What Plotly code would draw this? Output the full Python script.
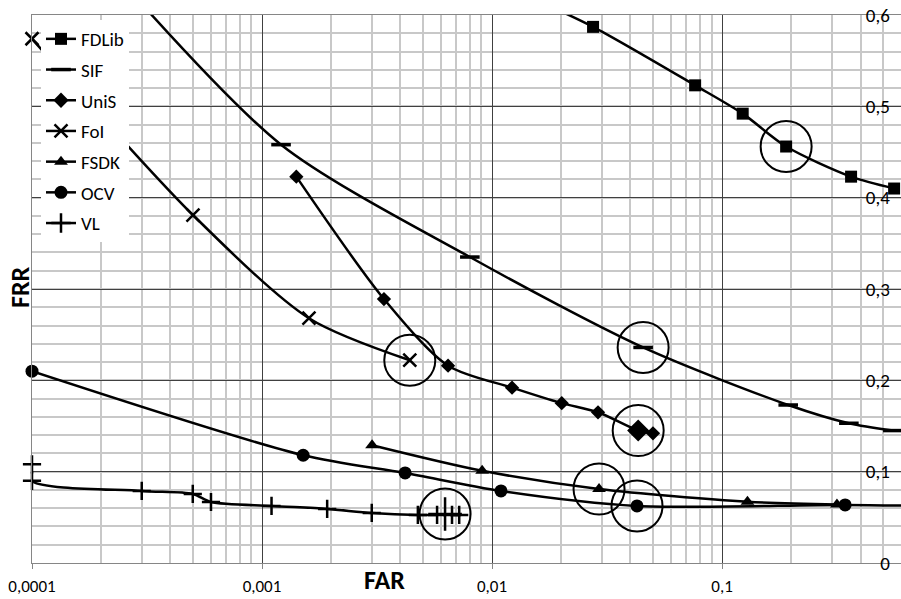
import math
import plotly.graph_objects as go

# ---------------- data ----------------
series_names = ["FDLib", "SIF", "UniS", "FoI", "FSDK", "OCV", "VL"]

fdlib_far = [0.016, 0.0275, 0.0764, 0.123, 0.190, 0.364, 0.560]
fdlib_frr = [0.615, 0.587, 0.523, 0.492, 0.456, 0.423, 0.410]

sif_far = [0.00022, 0.00121, 0.00801, 0.0454, 0.194, 0.356, 0.553]
sif_frr = [0.650, 0.458, 0.335, 0.236, 0.173, 0.153, 0.145]

unis_far = [0.00141, 0.00339, 0.00644, 0.01222, 0.0201, 0.0289, 0.0432, 0.0501]
unis_frr = [0.423, 0.289, 0.216, 0.192, 0.175, 0.165, 0.145, 0.142]

foi_far = [0.0001, 0.000501, 0.0016, 0.00439]
foi_frr = [0.574, 0.381, 0.268, 0.222]

fsdk_far = [0.00301, 0.00906, 0.0292, 0.129, 0.316]
fsdk_frr = [0.129, 0.101, 0.081, 0.067, 0.064]

ocv_far = [0.0001, 0.00151, 0.00419, 0.01094, 0.0427, 0.343, 1.0]
ocv_frr = [0.210, 0.118, 0.0986, 0.0789, 0.0625, 0.0636, 0.062]

vl_far = [0.0001, 0.0001, 0.0003, 0.0005, 0.0006, 0.0011, 0.00192, 0.0030,
          0.00476, 0.00577, 0.00625, 0.0067, 0.0072]
vl_frr = [0.108, 0.090, 0.0789, 0.0756, 0.0668, 0.0625, 0.0592, 0.0548,
          0.0526, 0.0526, 0.0537, 0.0526, 0.0526]

# index of the circled (operating) point in each series
highlight_index = [4, 3, 6, 3, 2, 4, 10]

x_tick_vals = [0.0001, 0.001, 0.01, 0.1]
x_tick_text = ["0,0001", "0,001", "0,01", "0,1"]
y_tick_vals = [0, 0.1, 0.2, 0.3, 0.4, 0.5, 0.6]
y_tick_text = ["0", "0,1", "0,2", "0,3", "0,4", "0,5", "0,6"]

# ---------------- styling ----------------
FONT = "Carlito, Lato, sans-serif"
fars = [fdlib_far, sif_far, unis_far, foi_far, fsdk_far, ocv_far, vl_far]
frrs = [fdlib_frr, sif_frr, unis_frr, foi_frr, fsdk_frr, ocv_frr, vl_frr]
symbols = ["square", "line-ew", "diamond", "x-thin", "triangle-up", "circle", "cross-thin"]
base_size = [12, 14, 11, 13, 12, 13, 13]
big_size = [12, 14, 17, 13, 12, 13, 24]
line_w = [0, 3.5, 0, 2.5, 0, 0, 2.5]
clip = [True, True, True, False, True, False, False]

fig = go.Figure()
for i, name in enumerate(series_names):
    n = len(fars[i])
    sizes = [big_size[i] if k == highlight_index[i] else base_size[i] for k in range(n)]
    fig.add_trace(go.Scatter(
        x=fars[i], y=frrs[i], name=name, mode="lines+markers", opacity=1,
        cliponaxis=clip[i],
        line=dict(color="black", width=2.5, shape="spline", smoothing=0.8),
        marker=dict(symbol=symbols[i], size=sizes, color="#000000", opacity=1,
                    line=dict(color="#000000", width=line_w[i])),
        legendgroup=name,
    ))

# circles around highlighted points
hx = [fars[i][highlight_index[i]] for i in range(len(series_names))]
hy = [frrs[i][highlight_index[i]] for i in range(len(series_names))]
fig.add_trace(go.Scatter(
    x=hx, y=hy, mode="markers", showlegend=False, hoverinfo="skip",
    marker=dict(symbol="circle-open", size=51, color="black", line=dict(width=2)),
))

minor_x = [m * 10 ** e for e in range(-4, 0) for m in range(2, 10)]

fig.update_layout(
    width=901, height=599,
    margin=dict(l=32, r=0, t=15, b=36, autoexpand=False),
    paper_bgcolor="white", plot_bgcolor="white",
    font=dict(family=FONT, size=19, color="black"),
    showlegend=True,
    legend=dict(
        x=(41 - 32) / 869, y=1 - (20 - 15) / 548,
        xanchor="left", yanchor="top", bgcolor="white",
        font=dict(family=FONT, size=19, color="black"),
        traceorder="grouped", tracegroupgap=3, itemwidth=30,
    ),
    xaxis=dict(
        type="log", range=[-4, math.log10(0.6)],
        tickmode="array", tickvals=x_tick_vals, ticktext=x_tick_text,
        showgrid=True, gridcolor="#404040", gridwidth=1,
        minor=dict(tickmode="array", tickvals=minor_x, showgrid=True,
                   gridcolor="#c8c8c8", gridwidth=1.5, ticks=""),
        ticks="outside", ticklen=5, tickcolor="#868686",
        ticklabelstandoff=3, ticklabeloverflow="allow",
        showline=True, linecolor="#868686", linewidth=1, mirror=True,
        tickfont=dict(family=FONT, size=17, color="black"), zeroline=False,
    ),
    yaxis=dict(
        range=[0, 0.6], side="right", ticklabelposition="inside",
        tickmode="array", tickvals=y_tick_vals, ticktext=y_tick_text,
        showgrid=True, gridcolor="#404040", gridwidth=1,
        minor=dict(dtick=0.02, showgrid=True, gridcolor="#c8c8c8", gridwidth=1.5),
        ticks="", ticklabelstandoff=12, ticklabeloverflow="allow",
        showline=True, linecolor="#868686", linewidth=1, mirror=True,
        tickfont=dict(family=FONT, size=19, color="black"), zeroline=False,
    ),
    annotations=[
        dict(text="<b>FAR</b>", xref="paper", yref="paper", x=(384 - 32) / 869, y=-(580 - 563) / 548,
             showarrow=False, font=dict(family=FONT, size=26, color="black"),
             xanchor="center", yanchor="middle"),
        dict(text="<b>FRR</b>", xref="paper", yref="paper", x=-(32 - 20) / 869, y=(563 - 287) / 548,
             showarrow=False, textangle=-90, font=dict(family=FONT, size=26, color="black"),
             xanchor="center", yanchor="middle"),
    ],
)

# remove the browser's default 8px page margin so the figure fills the window
fig.write_html("out.html", config={"displayModeBar": False},
               post_script="document.body.style.margin='0';")
